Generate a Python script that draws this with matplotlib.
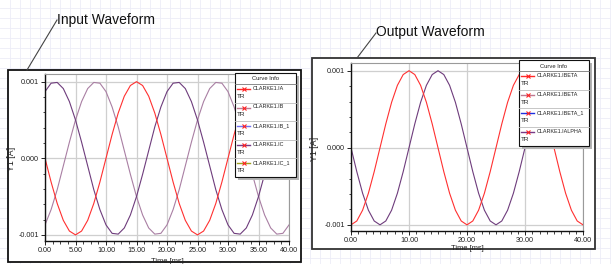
import matplotlib
matplotlib.use('Agg')
import matplotlib.pyplot as plt
import numpy as np
from matplotlib.patches import Rectangle
from matplotlib.ticker import MultipleLocator, AutoMinorLocator, FormatStrFormatter

plt.rcParams['font.family'] = ['Liberation Sans', 'DejaVu Sans']

# time samples [ms]
t_ms = np.arange(0, 41, 1.0)

# Input waveform currents [mA], read every 1 ms
ia = [0.0, -0.31, -0.59, -0.81, -0.95, -1.0, -0.95, -0.81, -0.59, -0.31,
      0.0, 0.31, 0.59, 0.81, 0.95, 1.0, 0.95, 0.81, 0.59, 0.31,
      0.0, -0.31, -0.59, -0.81, -0.95, -1.0, -0.95, -0.81, -0.59, -0.31,
      0.0, 0.31, 0.59, 0.81, 0.95, 1.0, 0.95, 0.81, 0.59, 0.31, 0.0]
ib = [0.87, 0.98, 0.99, 0.91, 0.74, 0.50, 0.21, -0.10, -0.41, -0.67,
      -0.87, -0.98, -0.99, -0.91, -0.74, -0.50, -0.21, 0.10, 0.41, 0.67,
      0.87, 0.98, 0.99, 0.91, 0.74, 0.50, 0.21, -0.10, -0.41, -0.67,
      -0.87, -0.98, -0.99, -0.91, -0.74, -0.50, -0.21, 0.10, 0.41, 0.67, 0.87]
ic = [-0.87, -0.67, -0.41, -0.10, 0.21, 0.50, 0.74, 0.91, 0.99, 0.98,
      0.87, 0.67, 0.41, 0.10, -0.21, -0.50, -0.74, -0.91, -0.99, -0.98,
      -0.87, -0.67, -0.41, -0.10, 0.21, 0.50, 0.74, 0.91, 0.99, 0.98,
      0.87, 0.67, 0.41, 0.10, -0.21, -0.50, -0.74, -0.91, -0.99, -0.98, -0.87]

# Output waveform currents [mA]
ibeta = [-1.0, -0.95, -0.81, -0.59, -0.31, 0.0, 0.31, 0.59, 0.81, 0.95,
         1.0, 0.95, 0.81, 0.59, 0.31, 0.0, -0.31, -0.59, -0.81, -0.95,
         -1.0, -0.95, -0.81, -0.59, -0.31, 0.0, 0.31, 0.59, 0.81, 0.95,
         1.0, 0.95, 0.81, 0.59, 0.31, 0.0, -0.31, -0.59, -0.81, -0.95, -1.0]
ialpha = [0.0, -0.31, -0.59, -0.81, -0.95, -1.0, -0.95, -0.81, -0.59, -0.31,
          0.0, 0.31, 0.59, 0.81, 0.95, 1.0, 0.95, 0.81, 0.59, 0.31,
          0.0, -0.31, -0.59, -0.81, -0.95, -1.0, -0.95, -0.81, -0.59, -0.31,
          0.0, 0.31, 0.59, 0.81, 0.95, 1.0, 0.95, 0.81, 0.59, 0.31, 0.0]

in_names = ['CLARKE1.IA', 'CLARKE1.IB', 'CLARKE1.IB_1', 'CLARKE1.IC', 'CLARKE1.IC_1']
in_colors = ['#ff2a2a', '#c07890', '#7070f0', '#7a3a86', '#a0a020']
out_names = ['CLARKE1.IBETA', 'CLARKE1.IBETA', 'CLARKE1.IBETA_1', 'CLARKE1.IALPHA']
out_colors = ['#ff2a2a', '#c07890', '#2030e0', '#7a3a86']

RED = '#ff3030'
DARK = '#6e3c7c'
MAUVE = '#a97fa3'

W, H = 611, 264
fig = plt.figure(figsize=(W / 100, H / 100), dpi=100)
fig.patch.set_facecolor('white')

# background "paper" grid and panel frames (pixel coordinates)
bg = fig.add_axes([0, 0, 1, 1])
bg.set_zorder(-10)
bg.set_xlim(0, W)
bg.set_ylim(H, 0)
bg.axis('off')
for x in np.arange(9.5, W, 10):
    bg.axvline(x, color='#ececf7', lw=0.6, zorder=1)
for y in np.arange(8, H, 10):
    bg.axhline(y, color='#ececf7', lw=0.6, zorder=1)
bg.add_patch(Rectangle((8, 70), 293, 192, fc='white', ec='#111111', lw=1.3, zorder=5))
bg.add_patch(Rectangle((312, 58), 283, 191, fc='white', ec='#333333', lw=1.3, zorder=5))


def setup(ax, xstep, nminor, xlabel_y, ylabel_x):
    ax.set_facecolor('white')
    ax.set_xlim(0, 40)
    ax.set_ylim(-0.00108, 0.0011)
    ax.xaxis.set_major_locator(MultipleLocator(xstep))
    ax.xaxis.set_minor_locator(AutoMinorLocator(nminor))
    ax.xaxis.set_major_formatter(FormatStrFormatter('%.2f'))
    ax.yaxis.set_major_locator(MultipleLocator(0.001))
    ax.yaxis.set_minor_locator(AutoMinorLocator(5))
    ax.yaxis.set_major_formatter(FormatStrFormatter('%.3f'))
    ax.tick_params(which='major', length=3, width=0.7, labelsize=5.2, pad=1.5,
                   color='#222222', labelcolor='#222222')
    ax.tick_params(which='minor', length=1.8, width=0.6, color='#222222')
    ax.grid(True, which='major', color='#cfcfcf', lw=0.9)
    ax.set_axisbelow(True)
    for s in ['top', 'right']:
        ax.spines[s].set_color('#9a9a9a')
        ax.spines[s].set_linewidth(0.8)
    for s in ['left', 'bottom']:
        ax.spines[s].set_color('#111111')
        ax.spines[s].set_linewidth(1.0)
    ax.set_xlabel('Time [ms]', fontsize=5.4, color='#222222')
    ax.xaxis.set_label_coords(0.5, xlabel_y)
    ax.set_ylabel('Y1 [A]', fontsize=6.3, color='#222222')
    ax.yaxis.set_label_coords(ylabel_x, 0.49)


ax1 = fig.add_axes([45 / W, 23 / H, 244 / W, 167 / H])
setup(ax1, 5, 4, -0.1, -0.119)
ax1.plot(t_ms, np.array(ic) * 1e-3, color=MAUVE, lw=0.8)
ax1.plot(t_ms, np.array(ib) * 1e-3, color=DARK, lw=0.8)
ax1.plot(t_ms, np.array(ia) * 1e-3, color=RED, lw=0.8)

ax2 = fig.add_axes([351 / W, 33 / H, 232 / W, 168 / H])
setup(ax2, 10, 8, -0.085, -0.138)
ax2.plot(t_ms, np.array(ialpha) * 1e-3, color=DARK, lw=0.8)
ax2.plot(t_ms, np.array(ibeta) * 1e-3, color=RED, lw=0.8)

# overlay for titles, leader lines and curve-info boxes
fg = fig.add_axes([0, 0, 1, 1])
fg.set_zorder(10)
fg.patch.set_visible(False)
fg.set_xlim(0, W)
fg.set_ylim(H, 0)
fg.axis('off')

fg.text(57, 24, 'Input Waveform', fontsize=10, color='#111111', va='baseline')
fg.plot([57, 27], [20, 70], color='#444444', lw=0.8)
fg.text(376, 36, 'Output Waveform', fontsize=10, color='#111111', va='baseline')
fg.plot([376, 357], [33, 58], color='#444444', lw=0.8)


def curve_info(x0, y0, w, head_h, row_h, names, colors):
    h = head_h + row_h * len(names)
    fg.add_patch(Rectangle((x0 + 3, y0 + 3), w, h, fc='#b4b4b4', ec='none'))
    fg.add_patch(Rectangle((x0, y0), w, h, fc='white', ec='#111111', lw=0.8))
    fg.text(x0 + w / 2, y0 + head_h / 2 + 0.5, 'Curve Info', fontsize=4.2,
            ha='center', va='center', color='#222222')
    for i, (name, col) in enumerate(zip(names, colors)):
        top = y0 + head_h + i * row_h
        fg.plot([x0, x0 + w], [top, top], color='#bdbdbd' if i else '#777777', lw=0.6)
        ly = top + 5
        fg.plot([x0 + 2, x0 + 15], [ly, ly], color=col, lw=1.0)
        fg.plot([x0 + 8.5], [ly], marker='x', ms=3, mew=0.8, color='#ff2020')
        fg.text(x0 + 17.5, ly - 0.5, name, fontsize=3.9, va='center', ha='left', color='#222222')
        fg.text(x0 + 2, top + 12.5, 'TR', fontsize=4.6, va='center', ha='left', color='#222222')


curve_info(235, 73, 61, 11, 18.5, in_names, in_colors)
curve_info(519, 60, 70, 11, 18.7, out_names, out_colors)

fig.savefig('out.png', dpi=100)
